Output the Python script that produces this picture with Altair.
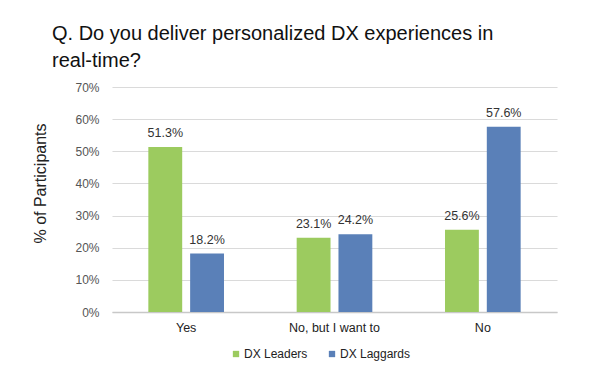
import altair as alt
import pandas as pd

categories = ["Yes", "No, but I want to", "No"]
series = ["DX Leaders", "DX Laggards"]
leaders = [51.3, 23.1, 25.6]
laggards = [18.2, 24.2, 57.6]
y_ticks = [0, 10, 20, 30, 40, 50, 60, 70]

rows = []
for c, a, b in zip(categories, leaders, laggards):
    rows.append({"cat": c, "series": series[0], "val": a, "label": f"{a:.1f}%"})
    rows.append({"cat": c, "series": series[1], "val": b, "label": f"{b:.1f}%"})
df = pd.DataFrame(rows)

FONT = "Liberation Sans"

x = alt.X("cat:N", sort=categories,
          scale=alt.Scale(paddingInner=0.49, paddingOuter=0.245),
          axis=alt.Axis(title=None, labelAngle=0, labelFontSize=12.5, labelColor="#222",
                        labelFont=FONT, labelPadding=9, ticks=False, grid=False,
                        domainColor="#c8c8c8", domainWidth=1.5))
xo = alt.XOffset("series:N", sort=series,
                 scale=alt.Scale(domain=series, paddingInner=0.19, paddingOuter=0))
y = alt.Y("val:Q", scale=alt.Scale(domain=[0, 70], nice=False),
          axis=alt.Axis(values=y_ticks, format=".0f", labelExpr="datum.value + '%'",
                        title="% of Participants", titleFontSize=16, titleFontWeight="normal",
                        titleFont=FONT, titleColor="#222", titleAngle=-90,
                        titleX=-72, titleY=96, titleAlign="center", titleBaseline="middle",
                        labelFontSize=12, labelColor="#555", labelFont=FONT, labelPadding=13,
                        ticks=False, domain=False, grid=True, gridColor="#dadada",
                        gridWidth=1.2, labelOverlap=False))
color = alt.Color("series:N", sort=series,
                  scale=alt.Scale(domain=series, range=["#9CCB5F", "#5A80B8"]),
                  legend=alt.Legend(title=None, orient="none", direction="horizontal",
                                    legendX=118, legendY=261, symbolType="square",
                                    symbolSize=40, symbolStrokeWidth=0,
                                    labelFontSize=12, labelFont=FONT, labelColor="#222",
                                    columnPadding=18, symbolOffset=0, labelOffset=2))

bars = alt.Chart(df).mark_bar().encode(x=x, xOffset=xo, y=y, color=color)
labels = alt.Chart(df).mark_text(dy=-7, fontSize=12.5, font=FONT, color="#333",
                                 baseline="bottom").encode(
    x=x, xOffset=xo, y=y, text="label:N")

chart = alt.layer(bars, labels).properties(
    width=445, height=225,
    background="white",
    view=alt.ViewBackground(stroke="transparent", strokeWidth=0),
    autosize=alt.AutoSizeParams(type="none"),
    padding={"left": 104, "top": 79, "right": 26, "bottom": 55},
    title=alt.TitleParams(["Q. Do you deliver personalized DX experiences in", "real-time?"],
                          anchor="start", frame="group", dx=-60, fontSize=20,
                          fontWeight="normal", font=FONT, color="#111", lineHeight=27,
                          offset=-10, baseline="bottom"),
).configure_view(stroke="transparent", strokeWidth=0).configure_axisX(
    grid=False).configure_axisY(domain=False)

chart.save("out.html", embed_options={"renderer": "svg", "actions": False})
